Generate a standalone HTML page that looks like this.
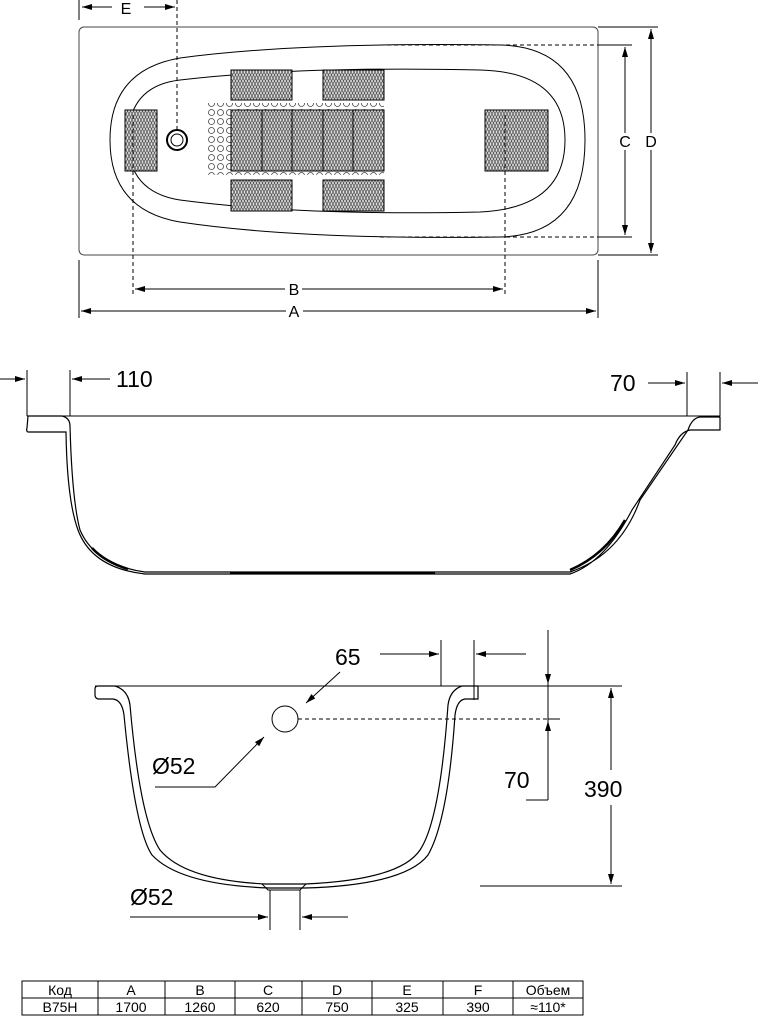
<!DOCTYPE html>
<html><head><style>
body{margin:0;background:#fff;width:758px;height:1019px;overflow:hidden}
svg{display:block}
text{font-family:"Liberation Sans",sans-serif;fill:#000}
</style></head><body>
<svg width="758" height="1019" viewBox="0 0 758 1019" xmlns="http://www.w3.org/2000/svg">
<defs>
<pattern id="h" width="6" height="6" patternUnits="userSpaceOnUse">
<rect width="6" height="6" fill="#ddd"/>
<path d="M0 6L3 0L6 6M0 0L3 6L6 0" stroke="#555" stroke-width="0.8" fill="none"/>
</pattern>
<pattern id="d" width="9" height="9" patternUnits="userSpaceOnUse">
<circle cx="4.5" cy="4.5" r="3" fill="none" stroke="#444" stroke-width="0.8"/>
</pattern>
<marker id="a" viewBox="0 0 10 6" refX="10" refY="3" markerWidth="10" markerHeight="6" orient="auto-start-reverse" markerUnits="userSpaceOnUse"><path d="M0 0L10 3L0 6z" fill="#000"/></marker>
</defs>
<g fill="none" stroke="#000" stroke-width="1">
<!-- top view -->
<rect x="79" y="27" width="519" height="228" rx="5" stroke="#444"/>
<path d="M180 58 Q300 42 500 45 Q585 47 585 140 Q585 235 500 237 Q300 240 180 222 Q110 210 110 140 Q110 70 180 58z"/>
<path d="M180 80 Q300 66 480 70 Q565 72 565 140 Q565 208 480 212 Q300 216 180 200 Q128 192 128 140 Q128 86 180 80z"/>
<rect x="206" y="103" width="178" height="72" fill="url(#d)" stroke="none"/>
<rect x="125" y="110" width="32" height="61" fill="url(#h)"/>
<rect x="485" y="110" width="63" height="61" fill="url(#h)"/>
<rect x="231" y="70" width="61" height="30" fill="url(#h)"/>
<rect x="323" y="70" width="61" height="30" fill="url(#h)"/>
<rect x="231" y="180" width="61" height="31" fill="url(#h)"/>
<rect x="323" y="180" width="61" height="31" fill="url(#h)"/>
<rect x="231" y="110" width="153" height="61" fill="url(#h)"/>
<path d="M262 110V171M292 110V171M323 110V171M353 110V171"/>
<circle cx="177" cy="140" r="10" stroke-width="2"/>
<circle cx="177" cy="140" r="6"/>
<g stroke-dasharray="4,3">
<path d="M177 0V130M133 115V295M505 115V295M380 45H600M380 237H600"/>
</g>
<path d="M79 0V20M79 260V318M598 260V318M598 45H632M598 237H632M598 27H658M598 255H658"/>
<path d="M82 7H112M144 7H175" marker-start="url(#a)" marker-end="url(#a)"/>
<path d="M135 289H285M302 289H503" marker-start="url(#a)" marker-end="url(#a)"/>
<path d="M81 311H286M303 311H596" marker-start="url(#a)" marker-end="url(#a)"/>
<path d="M625 47V133M625 150V235" marker-start="url(#a)" marker-end="url(#a)"/>
<path d="M651 29V133M651 150V253" marker-start="url(#a)" marker-end="url(#a)"/>
<!-- side view -->
<path d="M27 416H720"/>
<path d="M28 416H62Q70 418 70 426Q72 500 80 530Q95 565 145 572H570Q620 555 640 500L688 430Q692 418 700 417H720V430H690Q680 432 675 445L632 510Q605 562 570 574H145Q92 568 78 530Q67 500 66 432H28Q26 431 27 428z" stroke-width="1.2"/>
<path d="M92 548Q105 562 128 569M570 570Q605 555 625 520M230 573H435" stroke-width="2.5"/>
<path d="M27 370V416M70 370V416M687 372V416M720 372V416"/>
<path d="M0 379H25" marker-end="url(#a)"/>
<path d="M110 379H72" marker-end="url(#a)"/>
<path d="M648 383H685" marker-end="url(#a)"/>
<path d="M758 383H722" marker-end="url(#a)"/>
<!-- front view -->
<path d="M95 686H622"/>
<path d="M98 686H115Q128 690 130 705Q140 820 160 850Q185 880 265 884H305Q400 880 420 850Q440 820 448 705Q450 690 462 686H478V699H465Q457 700 455 715Q448 820 428 855Q405 885 305 888H270Q180 885 152 855Q135 830 124 715Q122 700 113 699H98Q95 698 95 695V689Q95 686 98 686z" stroke-width="1.2"/>
<path d="M262 884L268 890H300L306 884"/>
<circle cx="285" cy="719" r="13"/>
<path d="M298 719H555" stroke-dasharray="4,3"/>
<path d="M441 640V686M474 640V700M548 630V800M526 800H548M548 686H622M548 719H560M480 886H622M270 890V930M300 890V930"/>
<path d="M380 654H439" marker-end="url(#a)"/>
<path d="M526 654H476" marker-end="url(#a)"/>
<path d="M548 630V684" marker-end="url(#a)"/>
<path d="M548 770V721" marker-end="url(#a)"/>
<path d="M611 770V688" marker-end="url(#a)"/>
<path d="M611 805V884" marker-end="url(#a)"/>
<path d="M340 672L306 703" marker-end="url(#a)"/>
<path d="M155 787H215L264 737" marker-end="url(#a)"/>
<path d="M130 917H268" marker-end="url(#a)"/>
<path d="M348 917H302" marker-end="url(#a)"/>
<!-- table -->
<rect x="22" y="981" width="561" height="34"/>
<path d="M22 998H583M98 981V1015M165 981V1015M235 981V1015M302 981V1015M372 981V1015M443 981V1015M513 981V1015"/>
</g>
<g font-size="16" text-anchor="middle">
<text x="126" y="14">E</text>
<text x="294" y="295">B</text>
<text x="294" y="317">A</text>
<text x="625" y="147">C</text>
<text x="651" y="147">D</text>
</g>
<g font-size="23">
<text x="116" y="387">110</text>
<text x="610" y="391">70</text>
<text x="335" y="665">65</text>
<text x="152" y="774">Ø52</text>
<text x="504" y="788">70</text>
<text x="584" y="797">390</text>
<text x="130" y="905">Ø52</text>
</g>
<g font-size="14" text-anchor="middle">
<text x="60" y="995">Код</text><text x="131" y="995">A</text><text x="200" y="995">B</text><text x="268" y="995">C</text><text x="337" y="995">D</text><text x="407" y="995">E</text><text x="478" y="995">F</text><text x="548" y="995">Объем</text>
<text x="60" y="1012">B75H</text><text x="131" y="1012">1700</text><text x="200" y="1012">1260</text><text x="268" y="1012">620</text><text x="337" y="1012">750</text><text x="407" y="1012">325</text><text x="478" y="1012">390</text><text x="548" y="1012">≈110*</text>
</g>
</svg>
</body></html>
